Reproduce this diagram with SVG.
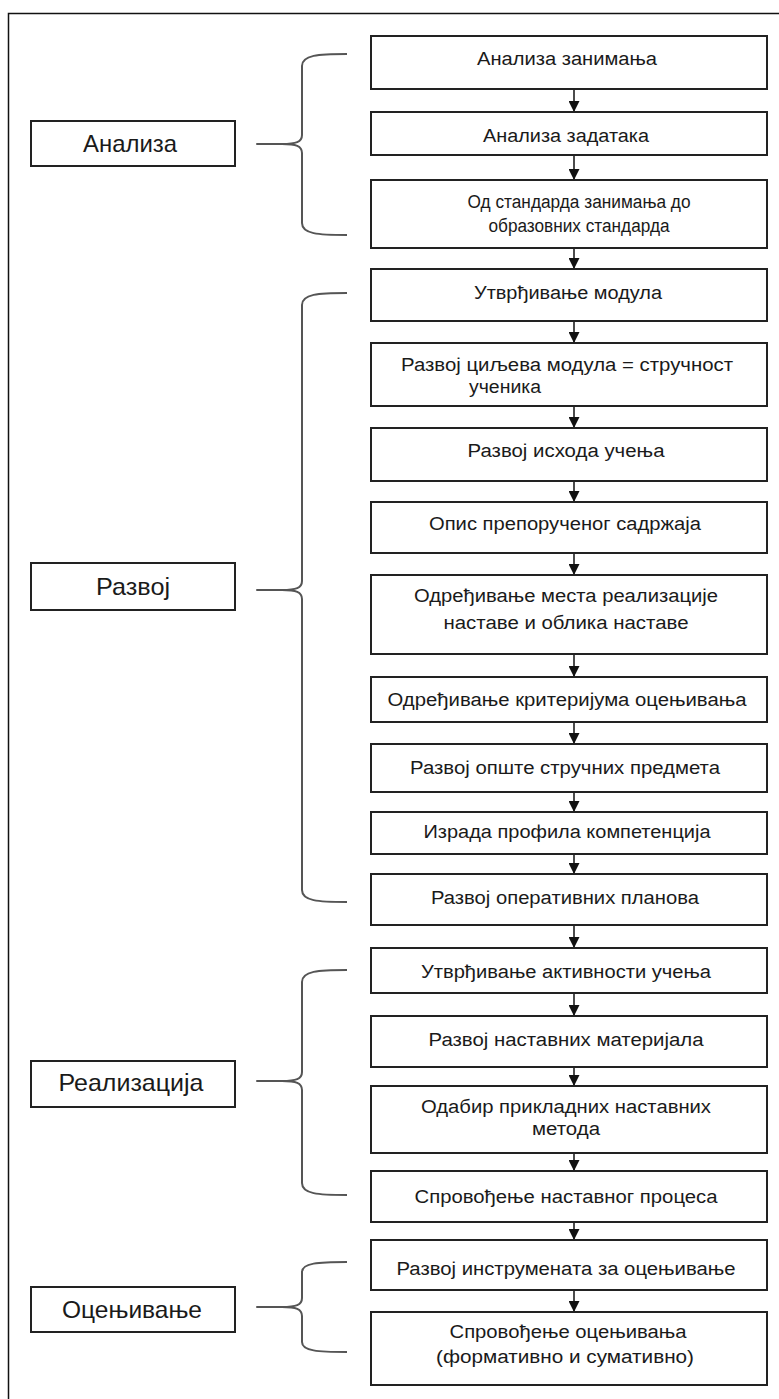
<svg xmlns="http://www.w3.org/2000/svg" width="779" height="1399" viewBox="0 0 779 1399">
<style>
.frame{fill:none;stroke:#111;stroke-width:1.5}
.box{fill:#fff;stroke:#222;stroke-width:2}
.brace{fill:none;stroke:#555;stroke-width:2;stroke-linejoin:round}
.t{font-family:"Liberation Sans",Arial,sans-serif;font-size:18px;fill:#1a1a1a;text-anchor:middle}
.lt{font-family:"Liberation Sans",Arial,sans-serif;font-size:24px;fill:#1a1a1a;text-anchor:middle}
.arr{stroke:#111;stroke-width:1.5;fill:none;marker-end:url(#ah)}
</style>
<defs>
<marker id="ah" markerUnits="userSpaceOnUse" markerWidth="11" markerHeight="11" viewBox="0 0 11 11" refX="11" refY="5.5" orient="auto">
<path d="M0,0 L11,5.5 L0,11 Z" fill="#111"/>
</marker>
</defs>
<rect class="frame" x="8.5" y="13.5" width="820" height="1420"/>

<g id="connectors">
<line class="arr" x1="574" y1="89" x2="574" y2="112"/>
<line class="arr" x1="574" y1="155" x2="574" y2="180"/>
<line class="arr" x1="574" y1="248" x2="574" y2="269"/>
<line class="arr" x1="574" y1="321" x2="574" y2="343"/>
<line class="arr" x1="574" y1="406" x2="574" y2="428"/>
<line class="arr" x1="574" y1="481" x2="574" y2="502"/>
<line class="arr" x1="574" y1="553" x2="574" y2="575"/>
<line class="arr" x1="574" y1="654" x2="574" y2="677"/>
<line class="arr" x1="574" y1="722" x2="574" y2="744"/>
<line class="arr" x1="574" y1="792" x2="574" y2="812"/>
<line class="arr" x1="574" y1="854" x2="574" y2="874"/>
<line class="arr" x1="574" y1="925" x2="574" y2="948"/>
<line class="arr" x1="574" y1="993" x2="574" y2="1016"/>
<line class="arr" x1="574" y1="1067" x2="574" y2="1086"/>
<line class="arr" x1="574" y1="1153" x2="574" y2="1171"/>
<line class="arr" x1="574" y1="1222" x2="574" y2="1240"/>
<line class="arr" x1="574" y1="1290" x2="574" y2="1312"/>
<path id="brace-analiza" class="brace" d="M347,54 C318,54 302,55 302,66 L302,135 C302,142 296,144 282,144 L257,144 L282,144 C296,144 302,146 302,153 L302,223 C302,234 318,235 347,235"/>
<path id="brace-razvoj" class="brace" d="M347,293 C318,293 302,294 302,305 L302,581 C302,588 296,590 282,590 L257,590 L282,590 C296,590 302,592 302,599 L302,890 C302,901 318,902 347,902"/>
<path id="brace-realizacija" class="brace" d="M347,970 C318,970 302,971 302,982 L302,1072 C302,1079 296,1081 282,1081 L257,1081 L282,1081 C296,1081 302,1083 302,1090 L302,1183 C302,1194 318,1195 347,1195"/>
<path id="brace-ocenjivanje" class="brace" d="M347,1262 C318,1262 302,1263 302,1272 L302,1298 C302,1305 296,1307 282,1307 L257,1307 L282,1307 C296,1307 302,1309 302,1316 L302,1342 C302,1351 318,1352 347,1352"/>
</g>

<g id="label-analiza"><rect class="box" x="31" y="121" width="204" height="45"/><text class="lt" x="130" y="152" textLength="94" lengthAdjust="spacingAndGlyphs">Анализа</text></g>
<g id="label-razvoj"><rect class="box" x="31" y="563" width="204" height="47"/><text class="lt" x="133" y="595" textLength="74" lengthAdjust="spacingAndGlyphs">Развој</text></g>
<g id="label-realizacija"><rect class="box" x="31" y="1061" width="204" height="46"/><text class="lt" x="131" y="1091" textLength="145" lengthAdjust="spacingAndGlyphs">Реализација</text></g>
<g id="label-ocenjivanje"><rect class="box" x="31" y="1287" width="204" height="45"/><text class="lt" x="132" y="1318" textLength="140" lengthAdjust="spacingAndGlyphs">Оцењивање</text></g>

<g id="n1"><rect class="box" x="371" y="36" width="396" height="53"/><text class="t" x="567" y="65" textLength="180" lengthAdjust="spacingAndGlyphs">Анализа занимања</text></g>
<g id="n2"><rect class="box" x="371" y="112" width="396" height="43"/><text class="t" x="566" y="142" textLength="166" lengthAdjust="spacingAndGlyphs">Анализа задатака</text></g>
<g id="n3"><rect class="box" x="371" y="180" width="396" height="68"/><text class="t" x="579" y="208" textLength="223" lengthAdjust="spacingAndGlyphs">Од стандарда занимања до</text><text class="t" x="579" y="232" textLength="181" lengthAdjust="spacingAndGlyphs">образовних стандарда</text></g>
<g id="n4"><rect class="box" x="371" y="269" width="396" height="52"/><text class="t" x="568" y="299" textLength="188" lengthAdjust="spacingAndGlyphs">Утврђивање модула</text></g>
<g id="n5"><rect class="box" x="371" y="343" width="396" height="63"/><text class="t" x="567" y="371" textLength="332" lengthAdjust="spacingAndGlyphs">Развој циљева модула = стручност</text><text class="t" x="505" y="393" textLength="72" lengthAdjust="spacingAndGlyphs">ученика</text></g>
<g id="n6"><rect class="box" x="371" y="428" width="396" height="53"/><text class="t" x="566" y="457" textLength="197" lengthAdjust="spacingAndGlyphs">Развој исхода учења</text></g>
<g id="n7"><rect class="box" x="371" y="502" width="396" height="51"/><text class="t" x="565" y="530" textLength="272" lengthAdjust="spacingAndGlyphs">Опис препорученог садржаја</text></g>
<g id="n8"><rect class="box" x="371" y="575" width="396" height="79"/><text class="t" x="566" y="602" textLength="304" lengthAdjust="spacingAndGlyphs">Одређивање места реализације</text><text class="t" x="566" y="629" textLength="245" lengthAdjust="spacingAndGlyphs">наставе и облика наставе</text></g>
<g id="n9"><rect class="box" x="371" y="677" width="396" height="45"/><text class="t" x="567" y="706" textLength="359" lengthAdjust="spacingAndGlyphs">Одређивање критеријума оцењивања</text></g>
<g id="n10"><rect class="box" x="371" y="744" width="396" height="48"/><text class="t" x="565" y="774" textLength="310" lengthAdjust="spacingAndGlyphs">Развој опште стручних предмета</text></g>
<g id="n11"><rect class="box" x="371" y="812" width="396" height="42"/><text class="t" x="567" y="838" textLength="287" lengthAdjust="spacingAndGlyphs">Израда профила компетенција</text></g>
<g id="n12"><rect class="box" x="371" y="874" width="396" height="51"/><text class="t" x="565" y="904" textLength="268" lengthAdjust="spacingAndGlyphs">Развој оперативних планова</text></g>
<g id="n13"><rect class="box" x="371" y="948" width="396" height="45"/><text class="t" x="566" y="978" textLength="290" lengthAdjust="spacingAndGlyphs">Утврђивање активности учења</text></g>
<g id="n14"><rect class="box" x="371" y="1016" width="396" height="51"/><text class="t" x="566" y="1046" textLength="275" lengthAdjust="spacingAndGlyphs">Развој наставних материјала</text></g>
<g id="n15"><rect class="box" x="371" y="1086" width="396" height="67"/><text class="t" x="566" y="1113" textLength="290" lengthAdjust="spacingAndGlyphs">Одабир прикладних наставних</text><text class="t" x="566" y="1135" textLength="68" lengthAdjust="spacingAndGlyphs">метода</text></g>
<g id="n16"><rect class="box" x="371" y="1171" width="396" height="51"/><text class="t" x="566" y="1203" textLength="303" lengthAdjust="spacingAndGlyphs">Спровођење наставног процеса</text></g>
<g id="n17"><rect class="box" x="371" y="1240" width="396" height="50"/><text class="t" x="566" y="1275" textLength="339" lengthAdjust="spacingAndGlyphs">Развој инструмената за оцењивање</text></g>
<g id="n18"><rect class="box" x="371" y="1312" width="396" height="73"/><text class="t" x="568" y="1338" textLength="237" lengthAdjust="spacingAndGlyphs">Спровођење оцењивања</text><text class="t" x="565" y="1363" textLength="258" lengthAdjust="spacingAndGlyphs">(формативно и сумативно)</text></g>
</svg>
